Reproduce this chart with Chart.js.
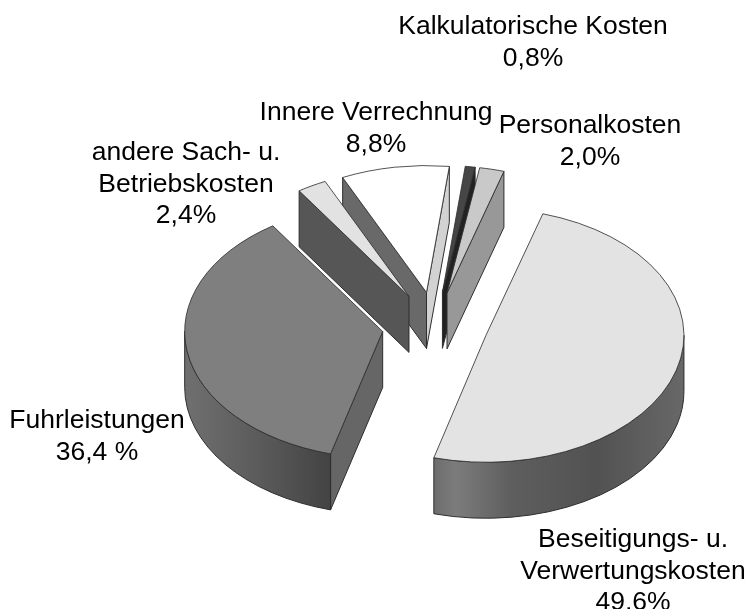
<!DOCTYPE html>
<html lang="de">
<head>
  <meta charset="UTF-8">
  <title>Kostenstruktur</title>
  <script src="https://cdn.jsdelivr.net/npm/chart.js"></script>
  <style>
    body { margin: 0; background: #fff; }
    canvas { display: block; }
  </style>
</head>
<body>
  <canvas id="pie" width="755" height="609"></canvas>
  <script>
    // slices clockwise, starting at the big one
    const categories = ['Beseitigungs- u. Verwertungskosten', 'Fuhrleistungen', 'andere Sach- u. Betriebskosten', 'Innere Verrechnung', 'Kalkulatorische Kosten', 'Personalkosten'];
    const shares = [49.6, 36.4, 2.4, 8.8, 0.8, 2.0];
    const valueLabels = ['49,6%', '36,4 %', '2,4%', '8,8%', '0,8%', '2,0%'];
    const nameLines = [
      ['Beseitigungs- u.', 'Verwertungskosten'],
      ['Fuhrleistungen'],
      ['andere Sach- u.', 'Betriebskosten'],
      ['Innere Verrechnung'],
      ['Kalkulatorische Kosten'],
      ['Personalkosten']
    ];

    // look of the 3d pie
    const RADIUS = 198, EXPLODE = 53, SQUASH = 0.641, DEPTH = 56;
    const topColors = ['#e3e3e3', '#7f7f7f', '#e2e2e2', '#ffffff', '#464646', '#c9c9c9'];
    const startWall = ['#666666', '#666666', '#565656', '#696969', '#222222', '#8f8f8f'];
    const endWall = ['#666666', '#666666', '#565656', '#d2d2d2', '#222222', '#989898'];
    const drawOrder = [3, 4, 5, 2, 1, 0];
    const labelPos = [[633, 540], [97, 421], [186, 153], [376, 113], [533, 27], [590, 126]];
    const LINE = 31.5;

    function squashed(ctx, el, fn) {
      ctx.save();
      ctx.translate(el.x, el.y);
      ctx.scale(1, SQUASH);
      ctx.translate(-el.x, -el.y);
      fn();
      ctx.restore();
    }

    function outerGradient(ctx, i) {
      if (i === 0) {
        const g = ctx.createLinearGradient(430, 0, 685, 0);
        g.addColorStop(0, '#6a6a6a');
        g.addColorStop(0.1, '#7c7c7c');
        g.addColorStop(0.32, '#5e5e5e');
        g.addColorStop(0.65, '#525252');
        g.addColorStop(1, '#686868');
        return g;
      }
      if (i === 1) {
        const g = ctx.createLinearGradient(183, 0, 328, 0);
        g.addColorStop(0, '#707070');
        g.addColorStop(0.5, '#5c5c5c');
        g.addColorStop(1, '#444444');
        return g;
      }
      return '#666666';
    }

    function drawWall(ctx, el, buildPath, fill) {
      ctx.beginPath();
      squashed(ctx, el, buildPath);
      ctx.fillStyle = fill;
      ctx.fill();
      ctx.strokeStyle = '#2e2e2e';
      ctx.lineWidth = 1;
      ctx.stroke();
    }

    // arcs come from the pie layout, only the sides and the explode are added here
    const pie3d = {
      id: 'pie3d',
      beforeDatasetDraw(chart) {
        const ctx = chart.ctx;
        const arcs = chart.getDatasetMeta(0).data;
        const drop = DEPTH / SQUASH;
        drawOrder.forEach(i => {
          const el = arcs[i];
          const r = el.outerRadius;
          const a0 = el.startAngle, a1 = el.endAngle, mid = (a0 + a1) / 2;
          const dx = Math.cos(mid) * EXPLODE, dy = Math.sin(mid) * EXPLODE;
          const px = el.x + dx, py = el.y + dy;

          const cutFace = angle => () => {
            const ex = px + Math.cos(angle) * r, ey = py + Math.sin(angle) * r;
            ctx.moveTo(px, py);
            ctx.lineTo(ex, ey);
            ctx.lineTo(ex, ey + drop);
            ctx.lineTo(px, py + drop);
            ctx.closePath();
          };
          // only the faces turned to the viewer
          if (Math.sin(a0 - Math.PI / 2) > 0) drawWall(ctx, el, cutFace(a0), startWall[i]);
          if (Math.sin(a1 + Math.PI / 2) > 0) drawWall(ctx, el, cutFace(a1), endWall[i]);
          const lo = Math.max(a0, 0), hi = Math.min(a1, Math.PI);
          if (hi > lo) {
            drawWall(ctx, el, () => {
              ctx.arc(px, py, r, lo, hi);
              ctx.arc(px, py + drop, r, hi, lo, true);
              ctx.closePath();
            }, outerGradient(ctx, i));
          }

          squashed(ctx, el, () => {
            ctx.translate(dx, dy);
            el.draw(ctx);
          });
        });
        return false;
      },
      afterDraw(chart) {
        const ctx = chart.ctx;
        ctx.save();
        ctx.font = '26.5px "Liberation Sans"';
        ctx.fillStyle = '#000';
        ctx.textAlign = 'center';
        ctx.textBaseline = 'middle';
        nameLines.forEach((lines, i) => {
          const [x, y] = labelPos[i];
          lines.concat(valueLabels[i]).forEach((t, n) => ctx.fillText(t, x, y + n * LINE));
        });
        ctx.restore();
      }
    };

    new Chart(document.getElementById('pie'), {
      type: 'pie',
      data: {
        labels: categories,
        datasets: [{
          data: shares,
          backgroundColor: topColors,
          borderColor: '#2e2e2e',
          borderWidth: 1
        }]
      },
      options: {
        responsive: false,
        animation: false,
        rotation: 16.7,
        radius: RADIUS,
        layout: { padding: { left: 115, top: 43 } },
        plugins: { legend: { display: false }, tooltip: { enabled: false } }
      },
      plugins: [pie3d]
    });
  </script>
</body>
</html>
